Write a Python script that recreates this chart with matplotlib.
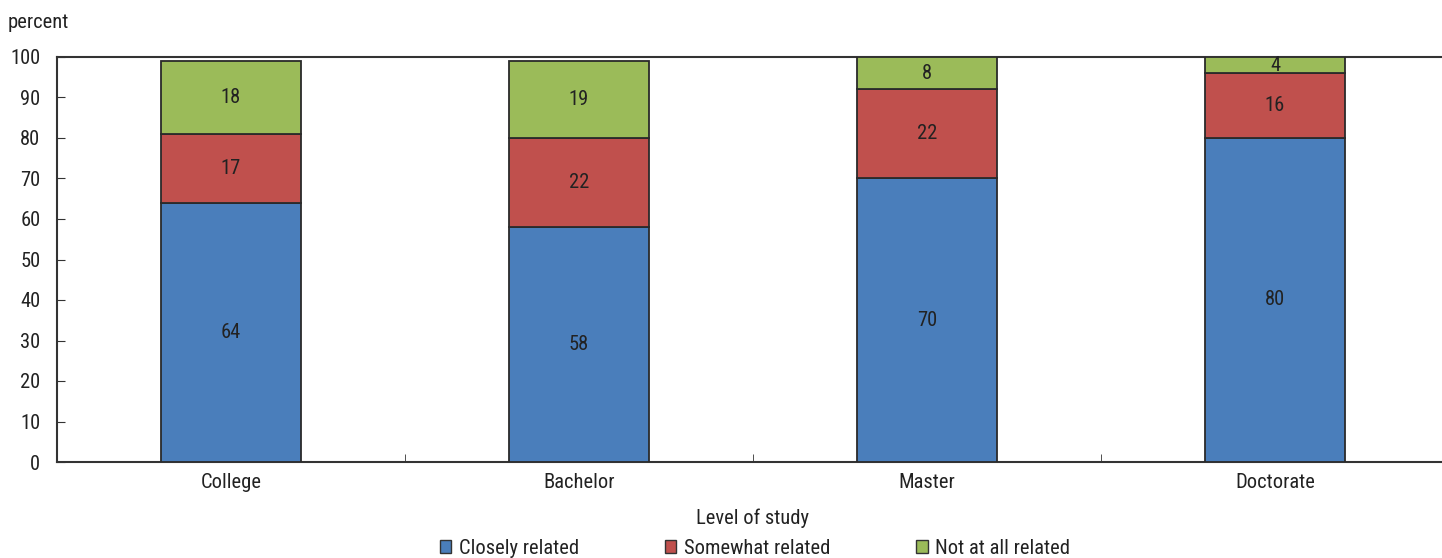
import matplotlib
matplotlib.use("Agg")
import matplotlib.pyplot as plt
from matplotlib.patches import Patch
import numpy as np

categories = ["College", "Bachelor", "Master", "Doctorate"]
closely = [64, 58, 70, 80]
somewhat = [17, 22, 22, 16]
not_at_all = [18, 19, 8, 4]
series_names = ["Closely related", "Somewhat related", "Not at all related"]
colors = ["#4a7ebb", "#c0504d", "#9bbb59"]

plt.rcParams['font.family'] = ['Roboto Condensed', 'DejaVu Sans']
txt = "#222222"
fs = 14.8

fig = plt.figure(figsize=(14.42, 5.58), dpi=100)
ax = fig.add_axes([57/1442, 96/558, 1392/1442, 405/558])

x = np.arange(len(categories))
width = 0.405
bottom = np.zeros(len(categories))
for vals, col in zip([closely, somewhat, not_at_all], colors):
    ax.bar(x, vals, width, bottom=bottom, color=col, edgecolor="#2a2a2a", linewidth=1.3, zorder=3)
    for xi, b, v in zip(x, bottom, vals):
        ax.text(xi, b + v / 2, str(v), ha="center", va="center", fontsize=fs, color=txt, zorder=4)
    bottom = bottom + np.array(vals)

ax.set_xlim(-0.5, 3.5)
ax.set_ylim(0, 100)
ax.set_yticks(range(0, 101, 10))
ax.set_xticks(x)
ax.set_xticklabels(categories)
ax.set_xticks([0.5, 1.5, 2.5], minor=True)
ax.tick_params(axis="x", which="major", length=0, pad=8, labelsize=fs, labelcolor=txt)
ax.tick_params(axis="x", which="minor", direction="in", length=6, color="#333333")
ax.tick_params(axis="y", direction="in", length=6, color="#333333", labelsize=fs, labelcolor=txt, pad=12)

for s in ["left", "bottom", "top"]:
    ax.spines[s].set_color("#333333")
    ax.spines[s].set_linewidth(1.5)
ax.spines["right"].set_visible(False)

ax.set_xlabel("Level of study", fontsize=fs, color=txt, labelpad=12)
fig.text(8/1442, 1 - 22/558, "percent", fontsize=fs, color=txt, ha="left", va="center")

handles = [Patch(facecolor=c, edgecolor="#333333", linewidth=1.0) for c in colors]
fig.legend(handles, series_names, loc="center", bbox_to_anchor=(755/1442, 1 - 548/558),
           ncol=3, frameon=False, fontsize=fs, handlelength=0.55, handleheight=0.6,
           handletextpad=0.35, columnspacing=4.2, labelcolor=txt)

fig.savefig("out.png", dpi=100)
